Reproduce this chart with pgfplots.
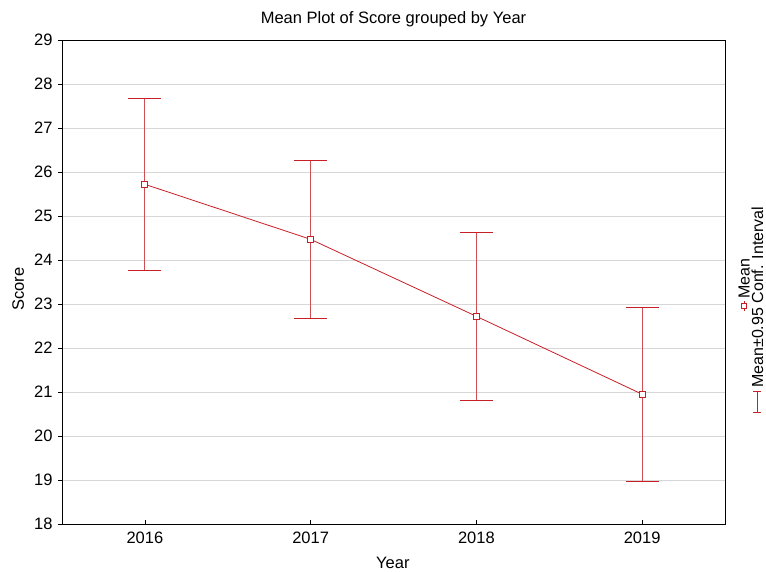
\documentclass[border=0pt]{standalone}
\usepackage{pgfplots}
\pgfplotsset{compat=1.18}
\usepackage{fontspec}
\setmainfont{Liberation Sans}
\definecolor{meanred}{RGB}{200,30,38}
\definecolor{barred}{RGB}{205,80,85}
\definecolor{gridgray}{RGB}{215,215,215}
\begin{document}
\begin{tikzpicture}[x=1pt,y=1pt]
\path[use as bounding box] (-62,-48) rectangle (704,524);
\begin{axis}[
  at={(0,0)}, anchor=south west,
  scale only axis, width=663pt, height=484pt,
  xmin=-0.5, xmax=3.5, ymin=18, ymax=29,
  xtick={0,1,2,3}, xticklabels={2016,2017,2018,2019},
  ytick={18,19,...,29},
  xtick pos=bottom, ytick pos=left,
  ymajorgrids, grid style={gridgray, line width=0.8pt},
  axis line style={black, line width=0.8pt},
  tick style={black, line width=0.6pt},
  xtick align=inside, ytick align=outside,
  major tick length=4pt,
  ticklabel style={font=\fontsize{16.5}{19}\selectfont},
  /pgf/number format/assume math mode=true,
  xticklabel style={yshift=-4pt},
  yticklabel style={xshift=-2pt},
  xlabel={Year}, ylabel={Score},
  label style={font=\fontsize{16.5}{19}\selectfont, inner sep=0pt},
  xlabel style={at={(axis description cs:0.499,-0.081)}, anchor=center},
  ylabel style={at={(axis description cs:-0.066,0.485)}, anchor=center},
  title={Mean Plot of Score grouped by Year},
  title style={font=\fontsize{16.5}{19}\selectfont, inner sep=0pt,
    at={(axis description cs:0.5,1.03)}, anchor=center},
  clip=false,
]
% confidence intervals
\addplot[draw=none, mark=none,
  error bars/.cd, y dir=both, y explicit,
  error bar style={barred, line width=1pt},
  error mark options={rotate=90, mark size=16.5pt, line width=1pt, meanred}]
  coordinates {
    (0,25.72) +- (0,1.96)
    (1,24.47) +- (0,1.79)
    (2,22.72) +- (0,1.91)
    (3,20.95) +- (0,1.98)
  };
% means
\addplot[meanred, line width=0.8pt, mark=square*, mark size=3pt,
  mark options={line width=1pt, fill=white, draw=meanred, solid}]
  coordinates {(0,25.72) (1,24.47) (2,22.72) (3,20.95)};
\end{axis}
% legend, set vertically at the right edge
\draw[meanred, line width=0.9pt] (682,213) -- (682,223);
\draw[meanred, line width=0.9pt, fill=white] (679.5,215.5) rectangle (684.5,220.5);
\node[rotate=90, anchor=base west, inner sep=0pt, font=\fontsize{16}{19}\selectfont]
  at (687.5,225) {Mean};
\draw[meanred, line width=1pt] (695,111) -- (695,132);
\draw[meanred, line width=1pt] (691,111) -- (699,111);
\draw[meanred, line width=1pt] (691,132) -- (699,132);
\node[rotate=90, anchor=base west, inner sep=0pt, font=\fontsize{16}{19}\selectfont]
  at (701,136) {Mean±0.95 Conf. Interval};
\end{tikzpicture}
\end{document}
